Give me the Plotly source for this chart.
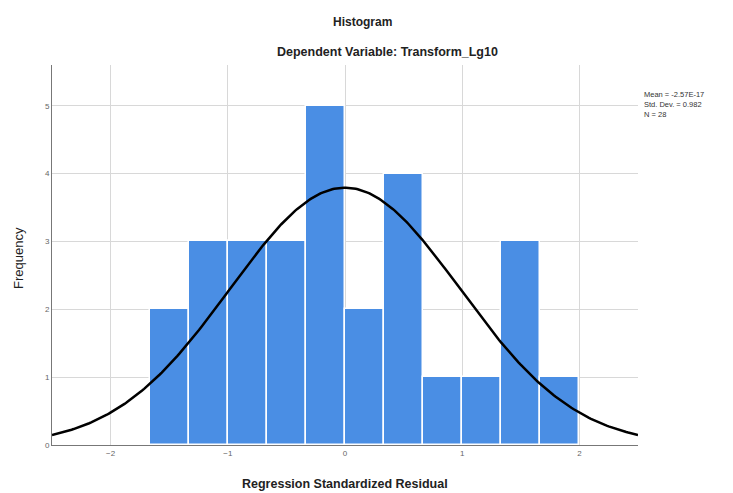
import numpy as np
import plotly.graph_objects as go

# Data
bin_start = -5/3
bin_width = 1/3
counts = [2, 3, 3, 3, 5, 2, 4, 1, 1, 3, 1]
mean = -2.57e-17
std_dev = 0.982
n_obs = 28
x_ticks = [-2, -1, 0, 1, 2]
y_ticks = [0, 1, 2, 3, 4, 5]

centers = [bin_start + bin_width * (i + 0.5) for i in range(len(counts))]

xs = np.linspace(-2.5, 2.5, 300)
ys = n_obs * bin_width * np.exp(-0.5 * ((xs - mean) / std_dev) ** 2) / (std_dev * np.sqrt(2 * np.pi))

OFF = 8  # page body margin
W, H = 733 - OFF, 493 - OFF
L, R, T, B = 52 - OFF, 638 - OFF, 65 - OFF, 445 - OFF
PW, PH = R - L, B - T

def px(x):
    return (x - OFF - L) / PW

def py(y):
    return (B - (y - OFF)) / PH

fig = go.Figure()
fig.add_trace(go.Bar(x=centers, y=counts, width=bin_width,
                     marker=dict(color="#4a8ee4", line=dict(color="white", width=1.5)),
                     showlegend=False))
fig.add_trace(go.Scatter(x=xs, y=ys, mode="lines", line=dict(color="black", width=2.5),
                         showlegend=False))

fig.update_layout(
    width=W, height=H,
    margin=dict(l=L, r=W - R, t=T, b=H - B, autoexpand=False),
    plot_bgcolor="white", paper_bgcolor="white",
    font=dict(family="Liberation Sans, Arial, sans-serif", color="#222"),
    bargap=0,
)
fig.add_annotation(text="<b>Histogram</b>", xref="paper", yref="paper", x=px(362), y=py(22),
                   showarrow=False, font=dict(size=12), xanchor="center", yanchor="middle")
fig.add_annotation(text="<b>Dependent Variable: Transform_Lg10</b>", xref="paper", yref="paper",
                   x=px(387), y=py(52), showarrow=False, font=dict(size=12.5),
                   xanchor="center", yanchor="middle")
fig.add_annotation(text=f"Mean = {mean:.2E}<br>Std. Dev. = {std_dev}<br>N = {n_obs}",
                   xref="paper", yref="paper", x=px(642), y=py(88),
                   showarrow=False, font=dict(size=7.5, color="#333"), xanchor="left", yanchor="top",
                   align="left")
fig.add_annotation(text="Frequency", xref="paper", yref="paper", x=px(18), y=py(258),
                   showarrow=False, textangle=-90, font=dict(size=13), xanchor="center", yanchor="middle")
fig.add_annotation(text="<b>Regression Standardized Residual</b>", xref="paper", yref="paper",
                   x=px(345), y=py(484), showarrow=False, font=dict(size=12.5),
                   xanchor="center", yanchor="middle")

fig.update_xaxes(range=[-2.5, 2.5], tickvals=x_ticks, showgrid=True, gridcolor="#d8d8d8",
                 showline=True, linecolor="#777", linewidth=1, zeroline=False, automargin=False,
                 tickfont=dict(size=8, color="#666"), ticks="")
fig.update_yaxes(range=[0, 5.6], tickvals=y_ticks, showgrid=True, gridcolor="#d8d8d8",
                 showline=True, linecolor="#777", linewidth=1, zeroline=False, automargin=False,
                 tickfont=dict(size=8, color="#666"), ticks="")

fig.write_html("out.html")
